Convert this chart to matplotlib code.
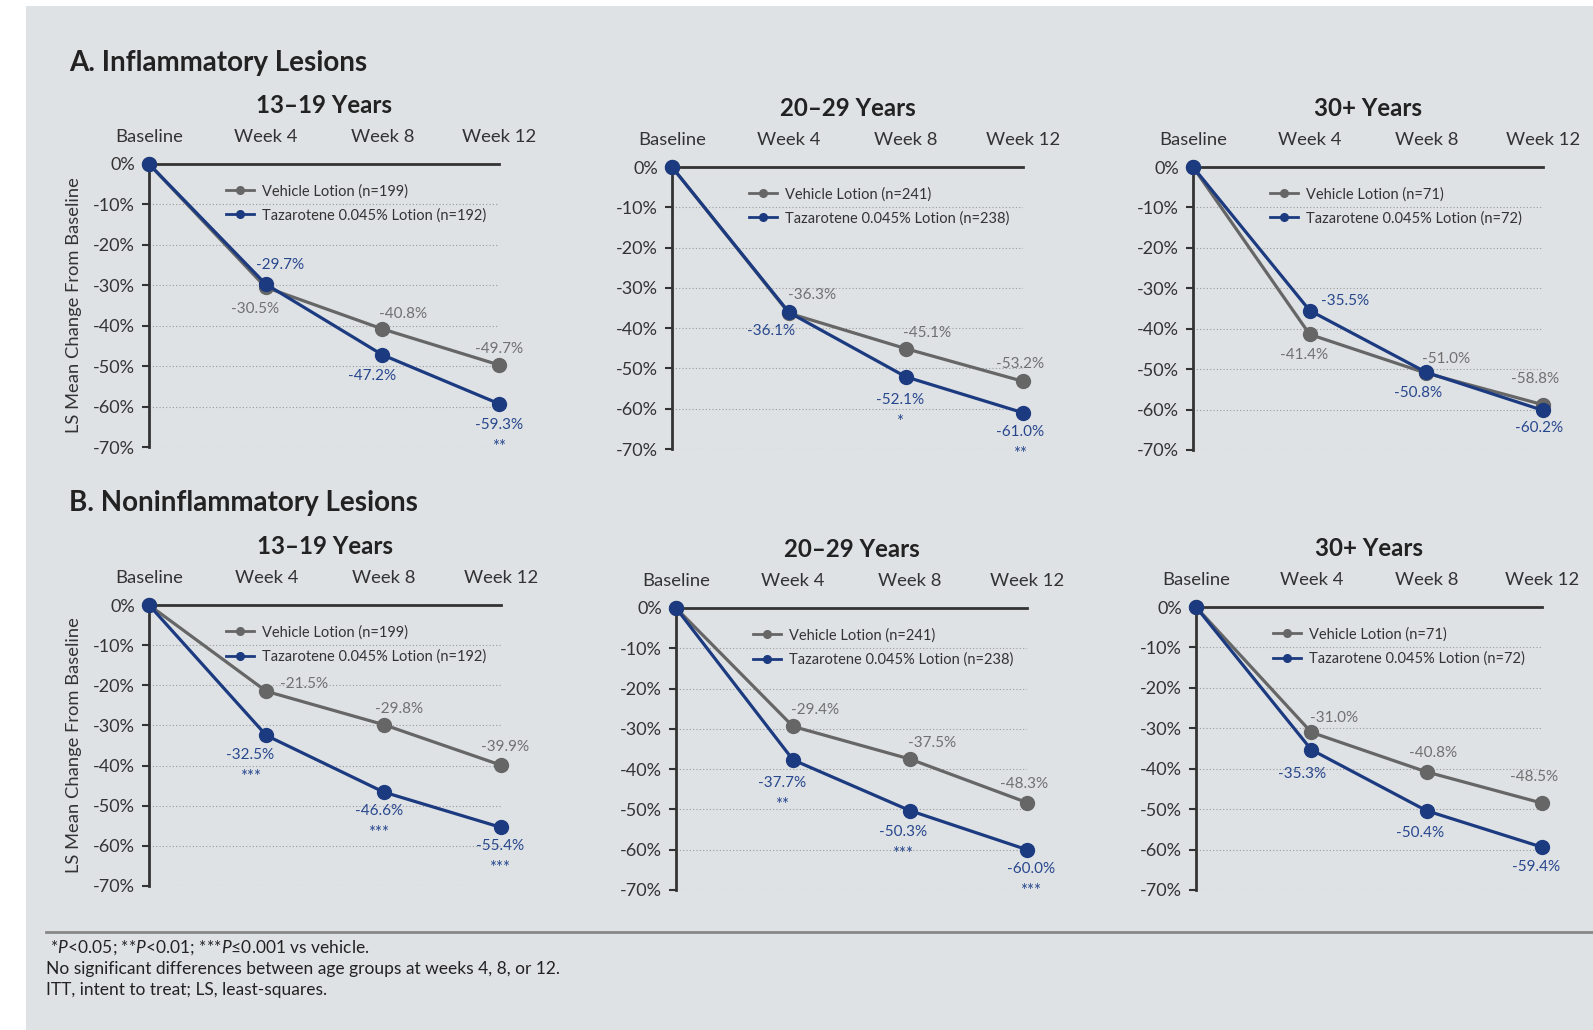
import matplotlib.pyplot as plt
from matplotlib.lines import Line2D
from matplotlib.patches import Rectangle

plt.rcParams['font.family'] = ['Lato', 'DejaVu Sans']
plt.rcParams['mathtext.fontset'] = 'custom'
plt.rcParams['mathtext.it'] = 'Lato:italic'
plt.rcParams['mathtext.rm'] = 'Lato'

# ---- data ----
weeks = ["Baseline", "Week 4", "Week 8", "Week 12"]
age_groups = ["13\u201319 Years", "20\u201329 Years", "30+ Years"]
n_vehicle = [199, 241, 71]
n_taz = [192, 238, 72]

infl_vehicle = [[0, -30.5, -40.8, -49.7],
                [0, -36.3, -45.1, -53.2],
                [0, -41.4, -51.0, -58.8]]
infl_taz = [[0, -29.7, -47.2, -59.3],
            [0, -36.1, -52.1, -61.0],
            [0, -35.5, -50.8, -60.2]]
infl_sig = [["", "", "", "**"],
            ["", "", "*", "**"],
            ["", "", "", ""]]

noninfl_vehicle = [[0, -21.5, -29.8, -39.9],
                   [0, -29.4, -37.5, -48.3],
                   [0, -31.0, -40.8, -48.5]]
noninfl_taz = [[0, -32.5, -46.6, -55.4],
               [0, -37.7, -50.3, -60.0],
               [0, -35.3, -50.4, -59.4]]
noninfl_sig = [["", "***", "***", "***"],
               ["", "**", "***", "***"],
               ["", "", "", ""]]

# ---- layout (pixels) ----
W, H = 1593, 1030
# x baseline, x week12, y 0%, y -70%
boxes = [[(149, 499, 164, 447), (672, 1023, 167, 449), (1193, 1543, 167, 450)],
         [(149, 501, 605, 886), (676, 1027, 608, 890), (1196, 1542, 607, 890)]]

# label offsets in pixels (vehicle, taz) for weeks 4, 8, 12
veh_off = [[[(-11, -22), (21, 15), (0, 16)],
            [(23, 18), (21, 16), (-3, 17)],
            [(-6, -21), (20, 14), (-8, 26)]],
           [[(38, 7), (15, 16), (4, 18)],
            [(22, 16), (22, 16), (-3, 19)],
            [(23, 14), (6, 19), (-8, 26)]]]
taz_off = [[[(14, 19), (-10, -21), (0, -21)],
            [(-18, -19), (-6, -23), (-3, -19)],
            [(35, 10), (-8, -21), (-4, -18)]],
           [[(-16, -20), (-5, -19), (-1, -19)],
            [(-11, -23), (-7, -21), (4, -19)],
            [(-9, -24), (-7, -22), (-6, -20)]]]

GRAY = '#666666'
BLUE = '#1b3a80'
GRAY_TXT = '#707070'
BLUE_TXT = '#27478d'
DARK = '#333333'

fig = plt.figure(figsize=(W / 100, H / 100), dpi=100)
fig.patch.set_facecolor('white')
fig.patches.append(Rectangle((26 / W, 0), 1 - 26 / W, 1 - 6 / H,
                             transform=fig.transFigure, facecolor='#dfe2e5',
                             edgecolor='none', zorder=-10))

sections = [("A. Inflammatory Lesions", infl_vehicle, infl_taz, infl_sig, 63),
            ("B. Noninflammatory Lesions", noninfl_vehicle, noninfl_taz, noninfl_sig, 503)]

x = [0, 1, 2, 3]
for r, (title, veh, taz, sig, ty) in enumerate(sections):
    fig.text(69 / W, 1 - ty / H, title, fontsize=20, fontweight='bold',
             color='#222222', va='center', ha='left')
    for c in range(3):
        x0, x1, y0, y1 = boxes[r][c]
        ax = fig.add_axes([x0 / W, 1 - y1 / H, (x1 - x0) / W, (y1 - y0) / H])
        ax.set_facecolor('none')
        ax.set_xlim(0, 3)
        ax.set_ylim(-70, 0)
        for s in ['bottom', 'right']:
            ax.spines[s].set_visible(False)
        for s in ['top', 'left']:
            ax.spines[s].set_color(DARK)
            ax.spines[s].set_linewidth(2)
        ax.set_yticks(range(-70, 1, 10))
        ax.set_yticklabels([f"{v}%" for v in range(-70, 1, 10)])
        ax.tick_params(axis='y', length=5, width=1.5, color=DARK, pad=5,
                       labelsize=13, labelcolor=DARK)
        ax.set_xticks(x)
        ax.set_xticklabels(weeks)
        ax.tick_params(axis='x', top=True, bottom=False, labeltop=True,
                       labelbottom=False, length=0, pad=14, labelsize=13.3,
                       labelcolor=DARK)
        ax.yaxis.grid(True, linestyle=(0, (1, 2)), color='#9a9a9a', linewidth=0.8)
        ax.set_axisbelow(True)

        ax.plot(x, veh[c], color=GRAY, lw=2.3, marker='o', ms=10, clip_on=False, zorder=3)
        ax.plot(x, taz[c], color=BLUE, lw=2.3, marker='o', ms=10, clip_on=False, zorder=4)

        for i in range(1, 4):
            dx, dy = veh_off[r][c][i - 1]
            ax.annotate(f"{veh[c][i]:.1f}%", (x[i], veh[c][i]), xytext=(dx, dy),
                        textcoords='offset pixels', ha='center', va='center',
                        fontsize=11, color=GRAY_TXT, annotation_clip=False)
            dx, dy = taz_off[r][c][i - 1]
            ax.annotate(f"{taz[c][i]:.1f}%", (x[i], taz[c][i]), xytext=(dx, dy),
                        textcoords='offset pixels', ha='center', va='center',
                        fontsize=11, color=BLUE_TXT, annotation_clip=False)
            if sig[c][i]:
                ax.annotate(sig[c][i], (x[i], taz[c][i]), xytext=(dx, dy - 22),
                            textcoords='offset pixels', ha='center', va='center',
                            fontsize=12, color=BLUE_TXT, annotation_clip=False)

        handles = [Line2D([], [], color=GRAY, lw=2, marker='o', ms=5.5),
                   Line2D([], [], color=BLUE, lw=2, marker='o', ms=5.5)]
        labels = [f"Vehicle Lotion (n={n_vehicle[c]})",
                  f"Tazarotene 0.045% Lotion (n={n_taz[c]})"]
        w, h = x1 - x0, y1 - y0
        ax.legend(handles, labels, loc='upper left', frameon=False,
                  bbox_to_anchor=(77 / w, 1 - 20 / h), borderaxespad=0,
                  borderpad=0, handlelength=1.9, handletextpad=0.6,
                  labelspacing=0.68, fontsize=10.5, labelcolor=DARK)

        ax.set_title(age_groups[c], fontsize=17.3, fontweight='bold',
                     color='#222222', pad=37)
        if c == 0:
            ax.set_ylabel("LS Mean Change From Baseline", fontsize=13.2,
                          color=DARK, labelpad=8)

# separator and footnotes
fig.add_artist(Line2D([46 / W, 1], [1 - 932 / H, 1 - 932 / H],
                      transform=fig.transFigure, color='#888888', lw=2))
foot = [" *$P$<0.05; **$P$<0.01; ***$P$\u22640.001 vs vehicle.",
        "No significant differences between age groups at weeks 4, 8, or 12.",
        "ITT, intent to treat; LS, least-squares."]
for k, line in enumerate(foot):
    fig.text(46 / W, 1 - (948 + 20.8 * k) / H, line, fontsize=12.5,
             color='#222222', va='center', ha='left')

fig.savefig('out.png', dpi=100)
